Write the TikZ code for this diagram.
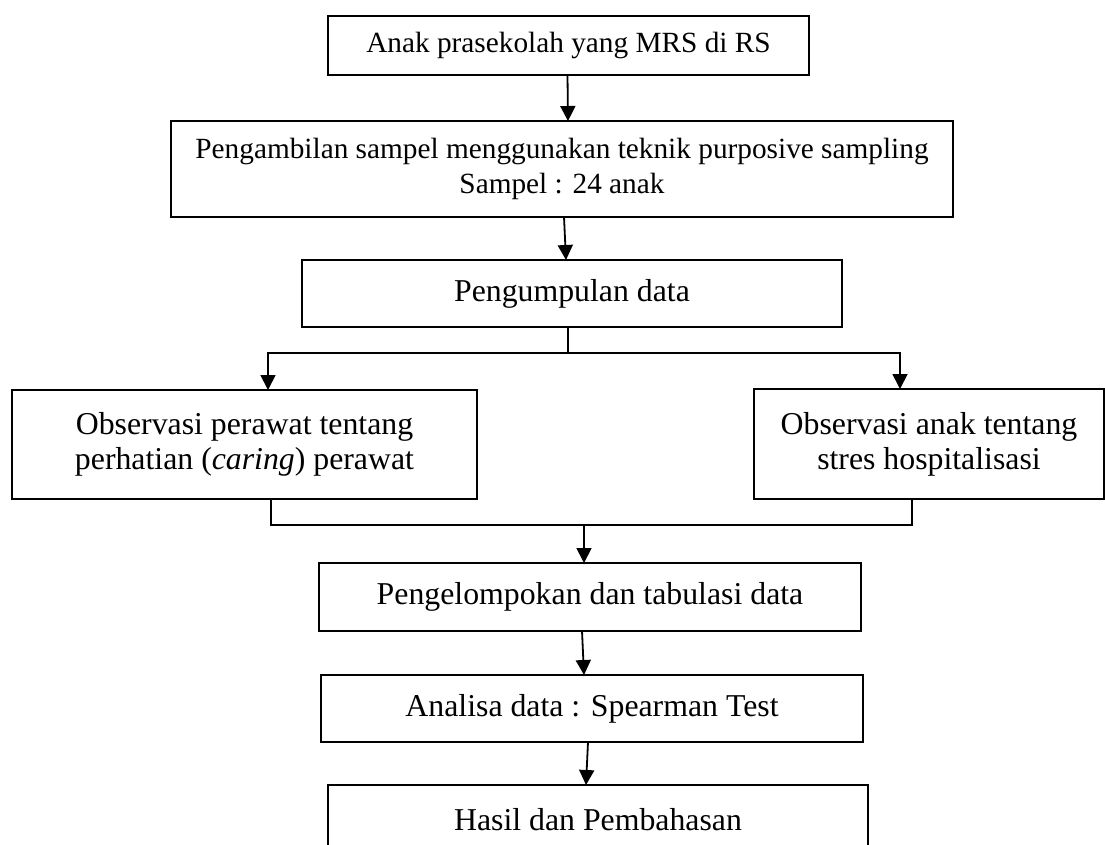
\documentclass[tikz,border=0pt]{standalone}
\usepackage{fontspec}
\setmainfont{Liberation Serif}
\usetikzlibrary{arrows.meta,calc}
\begin{document}
\begin{tikzpicture}[x=1pt,y=-1pt,
  box/.style={draw,line width=1.8pt,inner sep=0pt,outer sep=0pt,align=center,
    font=\fontsize{31.8}{35}\selectfont},
  smallbox/.style={box,font=\fontsize{29.3}{35}\selectfont},
  conn/.style={line width=1.8pt},
  arr/.style={conn,-{Triangle[length=15pt,width=15pt]}}]
\useasboundingbox (0,0) rectangle (1105,845);
\begin{scope}
\clip (0,0) rectangle (1105,845);
\node[smallbox,minimum width=481pt,minimum height=59pt] (b1) at (568.5,45.5) {Anak prasekolah yang MRS di RS};
\node[smallbox,minimum width=782pt,minimum height=96pt] (b2) at (562,169) {Pengambilan sampel menggunakan teknik purposive sampling\\Sampel : 24 anak};
\node[box,minimum width=540pt,minimum height=67pt] (b3) at (572,293.5) {Pengumpulan data};
\node[box,minimum width=465pt,minimum height=109pt] (b4) at (244.5,444.5) {Observasi perawat tentang\\perhatian (\textit{caring}) perawat};
\node[box,minimum width=350pt,minimum height=110pt] (b5) at (929,444) {Observasi anak tentang\\stres hospitalisasi};
\node[box,minimum width=542pt,minimum height=68pt] (b6) at (590,597) {Pengelompokan dan tabulasi data};
\node[box,minimum width=542pt,minimum height=67pt] (b7) at (592,708.5) {Analisa data : Spearman Test};
\node[box,minimum width=540pt,minimum height=70pt] (b8) at (598,820) {Hasil dan Pembahasan};

\draw[arr] ($(b1.south)+(-1,0)$) -- ($(b2.north)+(6,0)$);
\draw[arr] ($(b2.south)+(2,0)$) -- ($(b3.north)+(-6,0)$);

\coordinate (s3) at ($(b3.south)+(-4,0)$);
\coordinate (jL) at (268,353);
\coordinate (jR) at (900,353);
\draw[conn] (s3) -- (s3 |- jL);
\draw[arr] (jL -| s3) -- (jL) -- (jL |- b4.north);
\draw[arr] (jL -| s3) -- (jR) -- (jR |- b5.north);

\coordinate (mL) at (271,525);
\coordinate (mR) at (912,525);
\coordinate (m6) at (584,525);
\draw[conn] (mL |- b4.south) -- (mL) -- (mR) -- (mR |- b5.south);
\draw[arr] (m6) -- (m6 |- b6.north);

\draw[arr] ($(b6.south)+(-8,0)$) -- ($(b7.north)+(-8,0)$);
\draw[arr] ($(b7.south)+(-4,0)$) -- ($(b8.north)+(-12,0)$);
\end{scope}
\end{tikzpicture}
\end{document}
